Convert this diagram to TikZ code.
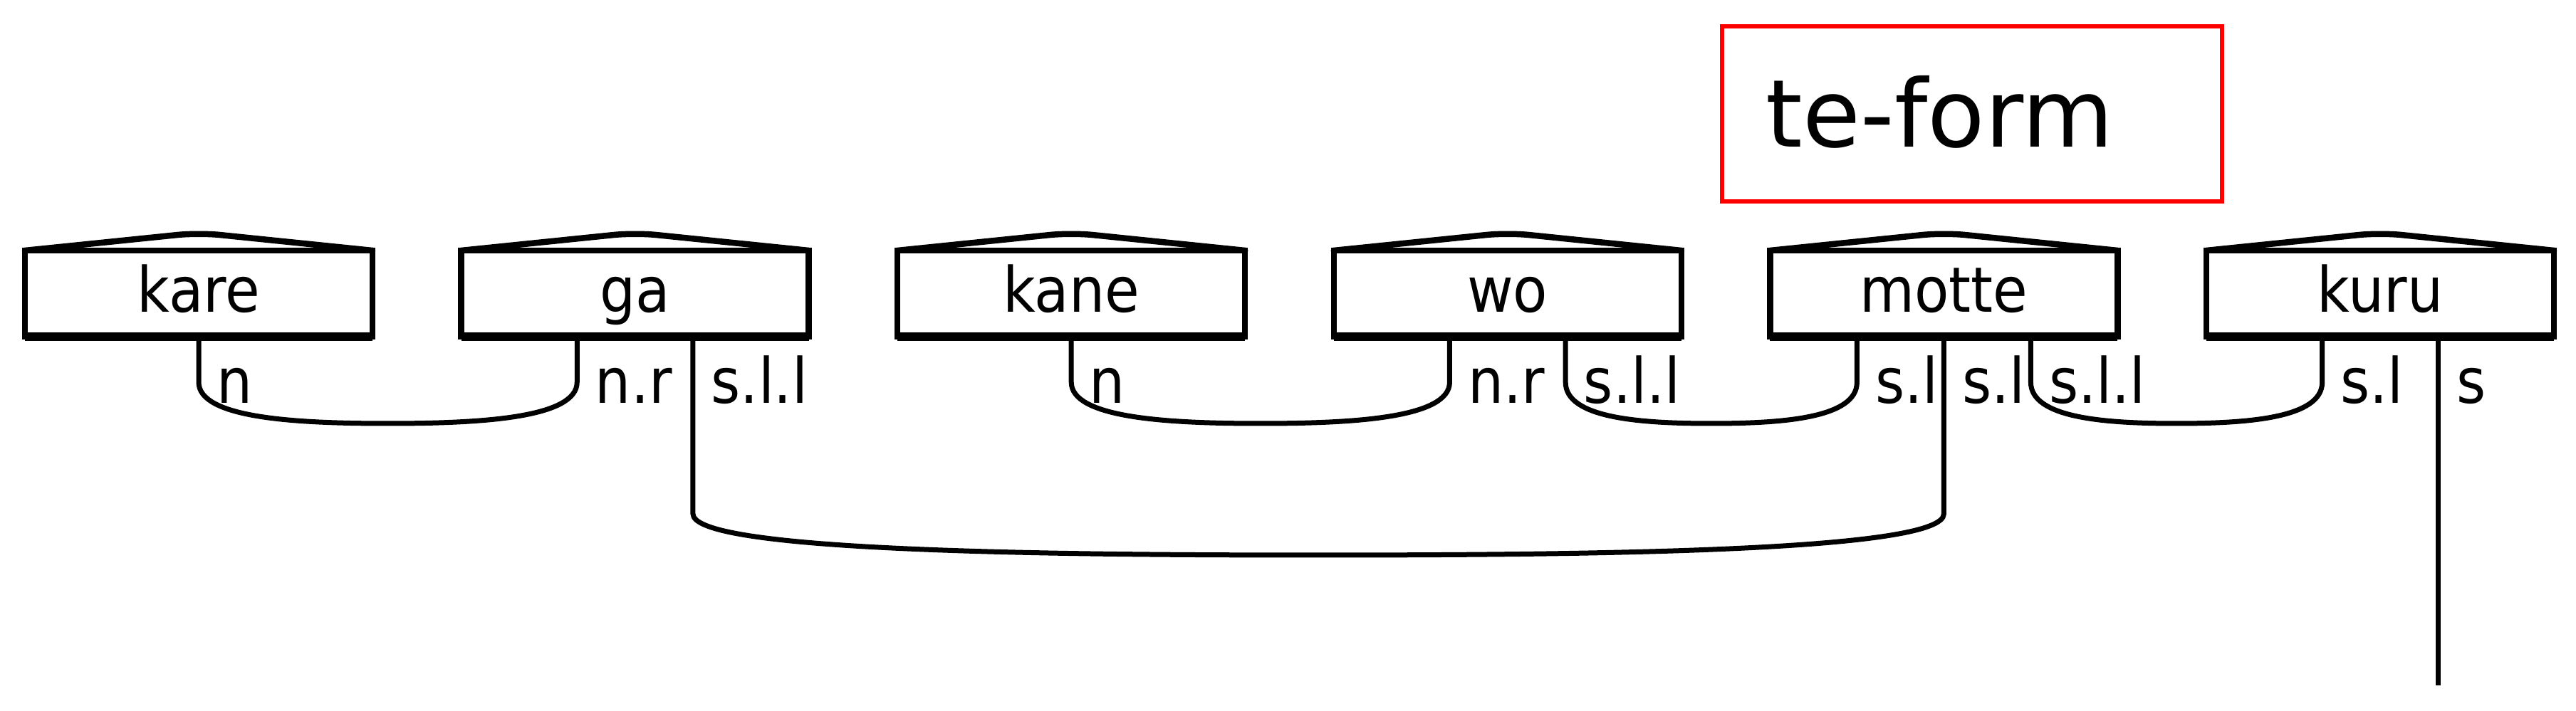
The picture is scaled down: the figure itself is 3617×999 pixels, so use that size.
\documentclass[tikz,border=0pt]{standalone}
\usepackage{fontspec}
\setmainfont{DejaVu Sans}
\newfontfamily\dfont{DejaVu Sans}[FakeStretch=0.9]
\newfontfamily\tefont{DejaVu Sans}
\usetikzlibrary{calc}
% cup-shaped connector between two ports: #1 port a, #2 port b, #3 straight drop
\newcommand\mycup[3]{%
  \draw[wire] (#1) -- ($(#1)+(0,#3)$)
    .. controls ($(#1)+(0,#3+50)$) and ($(#1)!0.25!(#2)+(0,#3+58)$) .. ($(#1)!0.5!(#2)+(0,#3+58)$)
    .. controls ($(#1)!0.75!(#2)+(0,#3+58)$) and ($(#2)+(0,#3+50)$) .. ($(#2)+(0,#3)$) -- (#2);%
}
\begin{document}
\begin{tikzpicture}[x=0.1mm,y=-0.1mm,
  wordbox/.style={draw, line width=0.85mm, minimum width=48.8mm, minimum height=12.1mm,
    inner sep=0pt, outer sep=0pt, text height=6.6mm, text depth=1.32mm,
    font=\dfont\fontsize{25}{30}\selectfont},
  roof/.style={line width=0.85mm, line cap=round, rounded corners=3mm},
  base/.style={line width=1.15mm},
  wire/.style={line width=0.7mm},
  lbl/.style={anchor=base west, inner sep=0pt, font=\dfont\fontsize{25}{30}\selectfont},
  redbox/.style={draw=red, line width=0.6mm, minimum width=70.2mm, minimum height=24.6mm, inner sep=0pt},
]
\useasboundingbox (0,0) rectangle (3617,999);

% word boxes
\foreach \n/\x in {kare/279, ga/891.6, kane/1504.2, wo/2116.8, motte/2729.4, kuru/3342}{
  \node[wordbox] (\n) at (\x,412.5) {\n};
  \draw[roof] (\n.north west) -- ([yshift=2.5mm]\n.north) -- (\n.north east);
  \draw[base] (\n.south west) -- (\n.south east);
}

% ports
\coordinate (kare-n) at (kare.south);
\coordinate (ga-nr) at ($(ga.south west)!0.3333!(ga.south east)$);
\coordinate (ga-sll) at ($(ga.south west)!0.6667!(ga.south east)$);
\coordinate (kane-n) at (kane.south);
\coordinate (wo-nr) at ($(wo.south west)!0.3333!(wo.south east)$);
\coordinate (wo-sll) at ($(wo.south west)!0.6667!(wo.south east)$);
\coordinate (motte-sl1) at ($(motte.south west)!0.25!(motte.south east)$);
\coordinate (motte-sl2) at (motte.south);
\coordinate (motte-sll) at ($(motte.south west)!0.75!(motte.south east)$);
\coordinate (kuru-sl) at ($(kuru.south west)!0.3333!(kuru.south east)$);
\coordinate (kuru-s) at ($(kuru.south west)!0.6667!(kuru.south east)$);
\coordinate (kuru-end) at ($(kuru-s)+(0,490)$);

% connectors
\mycup{kare-n}{ga-nr}{64}
\mycup{kane-n}{wo-nr}{64}
\mycup{wo-sll}{motte-sl1}{64}
\mycup{motte-sll}{kuru-sl}{64}
\mycup{ga-sll}{motte-sl2}{249}
\draw[wire] (kuru-s) -- (kuru-end);

% port labels
\node[lbl] (l-kare-n) at ($(kare-n)+(25,94)$) {n};
\node[lbl] (l-ga-nr) at ($(ga-nr)+(25,94)$) {n.r};
\node[lbl] (l-ga-sll) at ($(ga-sll)+(25,94)$) {s.l.l};
\node[lbl] (l-kane-n) at ($(kane-n)+(25,94)$) {n};
\node[lbl] (l-wo-nr) at ($(wo-nr)+(25,94)$) {n.r};
\node[lbl] (l-wo-sll) at ($(wo-sll)+(25,94)$) {s.l.l};
\node[lbl] (l-motte-sl1) at ($(motte-sl1)+(25,94)$) {s.l};
\node[lbl] (l-motte-sl2) at ($(motte-sl2)+(25,94)$) {s.l};
\node[lbl] (l-motte-sll) at ($(motte-sll)+(25,94)$) {s.l.l};
\node[lbl] (l-kuru-sl) at ($(kuru-sl)+(25,94)$) {s.l};
\node[lbl] (l-kuru-s) at ($(kuru-s)+(25,94)$) {s};

% te-form annotation
\node[redbox] (teform) at (2769,160) {};
\node[anchor=base west, inner sep=0pt, font=\tefont\fontsize{37.5}{45}\selectfont] (teform-text) at (2479,207) {te-form};
\end{tikzpicture}
\end{document}
